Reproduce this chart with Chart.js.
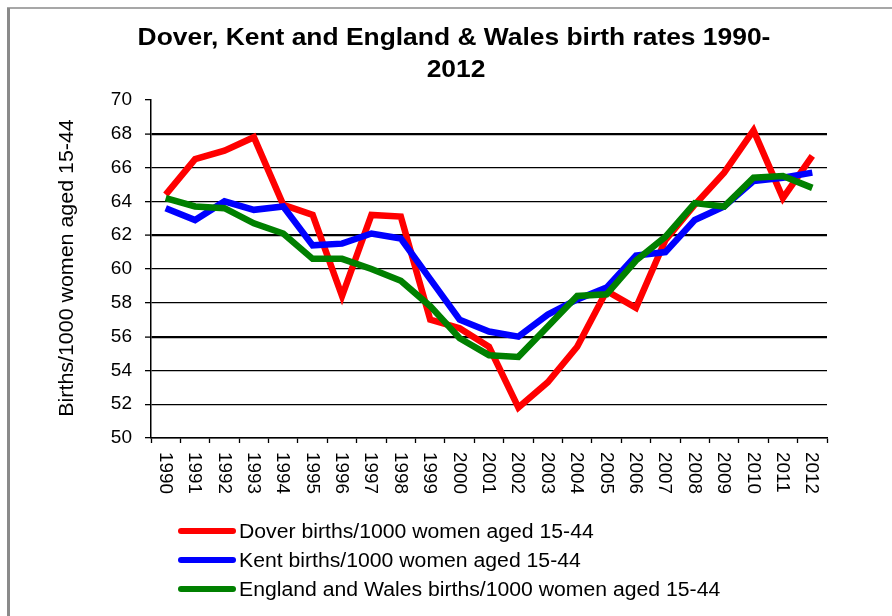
<!DOCTYPE html>
<html>
<head>
<meta charset="utf-8">
<title>Dover, Kent and England & Wales birth rates 1990-2012</title>
<script src="https://cdn.jsdelivr.net/npm/chart.js@4.4.1/dist/chart.umd.min.js"></script>
<style>
    html, body {margin: 0; padding: 0; background: #ffffff;}
    canvas {display: block;}
</style>
</head>
<body>
<canvas id="birthChart" width="892" height="616"></canvas>
<script>
// ---------- Data ----------
const years = ['1990', '1991', '1992', '1993', '1994', '1995', '1996', '1997', '1998', '1999', '2000',
    '2001', '2002', '2003', '2004', '2005', '2006', '2007', '2008', '2009', '2010', '2011', '2012']
const dover = [64.4, 66.5, 67.0, 67.8, 63.8, 63.2, 58.4, 63.2, 63.1, 57.0, 56.5,
    55.4, 51.8, 53.3, 55.4, 58.7, 57.7, 61.7, 63.8, 65.7, 68.2, 64.2, 66.7]
const kent = [63.6, 62.9, 64.0, 63.5, 63.7, 61.4, 61.5, 62.1, 61.8, 59.4, 57.0,
    56.3, 56.0, 57.3, 58.2, 58.9, 60.8, 61.0, 62.9, 63.7, 65.2, 65.4, 65.7]
const englandWales = [64.2, 63.7, 63.6, 62.7, 62.1, 60.6, 60.6, 60.0, 59.3, 57.8, 55.9,
    54.9, 54.8, 56.6, 58.4, 58.5, 60.5, 61.9, 63.9, 63.7, 65.4, 65.5, 64.8]
const seriesNames = ['Dover births/1000 women aged 15-44', 'Kent births/1000 women aged 15-44',
    'England and Wales births/1000 women aged 15-44']
const seriesColors = ['#ff0000', '#0000ff', '#008000']
const yMin = 50, yMax = 70, yStep = 2

const titleLines = ['Dover, Kent and England & Wales birth rates 1990-', '2012']
const yTitle = 'Births/1000 women aged 15-44'
const FONT = '"Liberation Sans", Arial, sans-serif'

// stretched text helper (the original text is a bit wider than plain Arial)
function stretchedText(ctx, text, x, y, sx, rot) {
    ctx.save()
    ctx.translate(x, y)
    if (rot) ctx.rotate(rot)
    ctx.scale(sx, 1)
    ctx.fillText(text, 0, 0)
    ctx.restore()
}

// Title, axis title, rotated year labels, legend and frame
const decorations = {
    id: 'decorations',
    beforeDraw(chart) {
        const ctx = chart.ctx
        ctx.save()
        ctx.fillStyle = '#ffffff'
        ctx.fillRect(0, 0, chart.width, chart.height)
        // grey frame of the original sheet
        ctx.strokeStyle = '#8a8a8a'
        ctx.lineWidth = 3
        ctx.beginPath()
        ctx.moveTo(8.5, chart.height)
        ctx.lineTo(8.5, 8)
        ctx.stroke()
        ctx.lineWidth = 1.5
        ctx.beginPath()
        ctx.moveTo(7, 8)
        ctx.lineTo(chart.width, 8)
        ctx.stroke()
        ctx.restore()
    },
    afterDraw(chart) {
        const ctx = chart.ctx
        ctx.save()
        ctx.fillStyle = '#000000'

        // Title
        ctx.font = 'bold 24px ' + FONT
        ctx.textAlign = 'center'
        ctx.textBaseline = 'middle'
        stretchedText(ctx, titleLines[0], 454, 38, 1.1)
        stretchedText(ctx, titleLines[1], 456, 70, 1.1)

        // Y axis title
        ctx.font = '20px ' + FONT
        stretchedText(ctx, yTitle, 67, 268, 1.07, -Math.PI / 2)

        // Year labels, rotated clockwise
        const xScale = chart.scales.x
        ctx.font = '18px ' + FONT
        ctx.textAlign = 'left'
        years.forEach((label, i) => {
            const x = xScale.getPixelForTick(i)
            stretchedText(ctx, label, x - 1, 452, 1.05, Math.PI / 2)
        })

        // Legend
        const rows = [531, 560, 589]
        ctx.font = '20px ' + FONT
        ctx.textBaseline = 'middle'
        chart.data.datasets.forEach((ds, i) => {
            ctx.strokeStyle = ds.borderColor
            ctx.lineWidth = 6
            ctx.lineCap = 'round'
            ctx.beginPath()
            ctx.moveTo(181, rows[i])
            ctx.lineTo(233, rows[i])
            ctx.stroke()
            stretchedText(ctx, ds.label, 239, rows[i] + 1, 1.06)
        })
        ctx.restore()
    }
}

const gridColor = (context) => context.tick && context.tick.value === yMax ? 'rgba(0,0,0,0)' : '#000000'
const gridWidth = (context) => {
    const v = context.tick ? context.tick.value : 0
    return (v === 68 || v === 62 || v === 56) ? 2.2 : 1.3
}

const makeDataset = (i, values, order) => ({
    label: seriesNames[i],
    data: values,
    borderColor: seriesColors[i],
    backgroundColor: seriesColors[i],
    borderWidth: 6.5,
    borderJoinStyle: 'miter',
    pointRadius: 0,
    pointHoverRadius: 0,
    tension: 0,
    fill: false,
    order: order
})

const ctx = document.getElementById('birthChart').getContext('2d')
const birthChart = new Chart(ctx, {
    type: 'line',
    data: {
        labels: years,
        datasets: [
            makeDataset(0, dover, 3),
            makeDataset(1, kent, 2),
            makeDataset(2, englandWales, 1)
        ]
    },
    options: {
        responsive: false,
        animation: false,
        layout: {padding: {left: 0, right: 65, top: 100, bottom: 0}},
        plugins: {
            legend: {display: false},
            title: {display: false},
            tooltip: {enabled: false}
        },
        scales: {
            x: {
                type: 'category',
                offset: true,
                afterFit: (scale) => { scale.height = 178 },
                grid: {
                    offset: true,
                    drawOnChartArea: false,
                    drawTicks: true,
                    tickLength: 5,
                    tickColor: '#000000',
                    tickWidth: 1.3
                },
                border: {color: '#000000', width: 1.5},
                ticks: {display: false}
            },
            y: {
                min: yMin,
                max: yMax,
                afterFit: (scale) => { scale.width = 151 },
                grid: {
                    color: gridColor,
                    lineWidth: gridWidth,
                    drawTicks: true,
                    tickLength: 6,
                    tickColor: '#000000',
                    tickWidth: 1.3
                },
                border: {color: '#000000', width: 1.5},
                ticks: {
                    stepSize: yStep,
                    color: '#000000',
                    padding: 13,
                    font: {family: FONT, size: 19}
                }
            }
        }
    },
    plugins: [decorations]
})
</script>
</body>
</html>
